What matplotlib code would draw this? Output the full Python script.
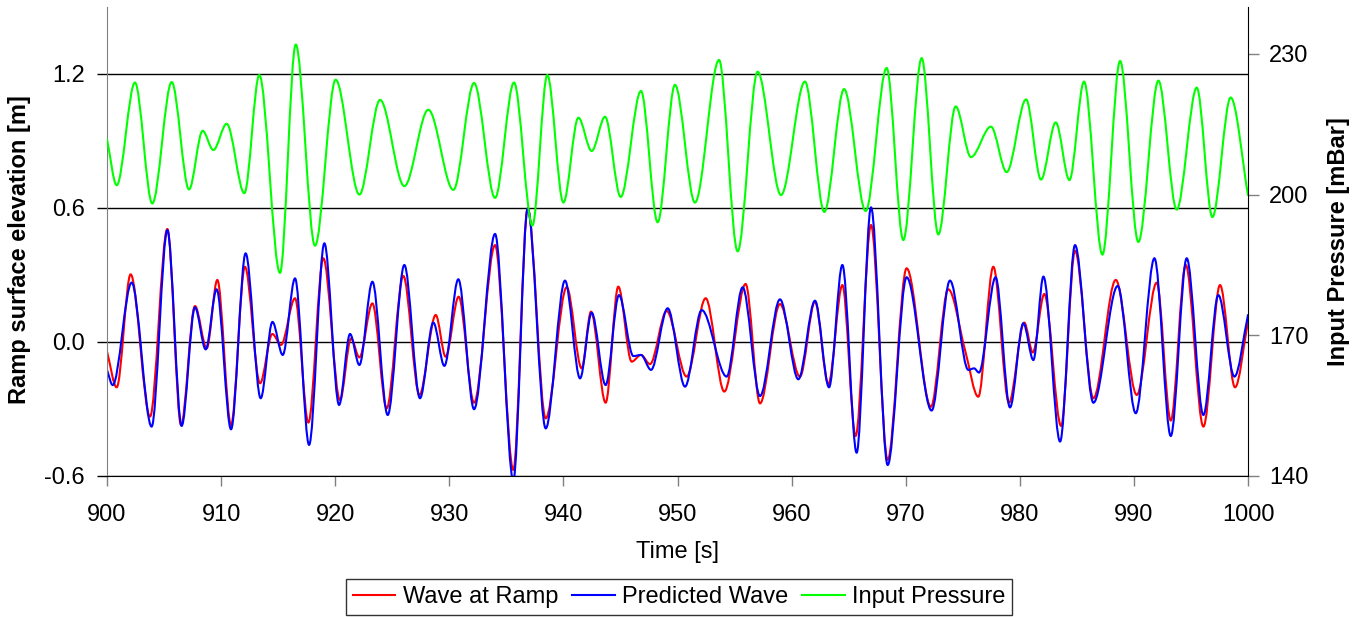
import numpy as np
import matplotlib
matplotlib.use('Agg')
import matplotlib.pyplot as plt
from matplotlib.path import Path
from matplotlib.patches import PathPatch
from matplotlib.lines import Line2D

plt.rcParams['font.family'] = ['Liberation Sans', 'DejaVu Sans']

# Wave at Ramp [m] (turning points)
red_t = [900.0, 900.85, 902.07, 903.77, 905.29, 906.49, 907.71, 908.74, 909.67, 910.87,
         912.09, 913.41, 914.49, 915.25, 916.48, 917.65, 918.96, 920.42, 921.39, 922.12,
         923.26, 924.51, 925.97, 927.38, 928.81, 929.68, 930.82, 932.17, 934.01, 935.61,
         936.87, 938.45, 940.29, 941.6, 942.42, 943.7, 944.81, 945.98, 946.8, 947.59,
         949.05, 950.8, 952.47, 954.1, 955.97, 957.23, 958.98, 960.73, 962.05, 963.22,
         964.45, 965.61, 966.96, 968.42, 970.08, 972.21, 973.73, 975.2, 976.36, 977.68,
         979.05, 980.39, 981.14, 982.15, 983.62, 984.84, 986.45, 988.41, 990.25, 992.0,
         993.23, 994.54, 996.09, 997.55, 998.86, 1000.0]
red_v = [-0.043, -0.203, 0.303, -0.334, 0.506, -0.372, 0.161, -0.028, 0.278, -0.372,
         0.337, -0.185, 0.036, -0.013, 0.196, -0.361, 0.375, -0.26, 0.016, -0.069,
         0.173, -0.297, 0.296, -0.237, 0.121, -0.066, 0.203, -0.272, 0.434, -0.573,
         0.598, -0.342, 0.245, -0.118, 0.136, -0.272, 0.248, -0.088, -0.058, -0.099,
         0.139, -0.155, 0.196, -0.222, 0.26, -0.275, 0.17, -0.155, 0.181, -0.188,
         0.255, -0.421, 0.524, -0.528, 0.33, -0.29, 0.236, -0.036, -0.245, 0.337,
         -0.272, 0.087, -0.047, 0.215, -0.376, 0.409, -0.252, 0.278, -0.237, 0.266,
         -0.352, 0.345, -0.379, 0.255, -0.203, 0.091]

# Predicted Wave [m]
blue_t = [900.0, 900.5, 902.16, 903.91, 905.29, 906.54, 907.71, 908.65, 909.61, 910.87,
          912.15, 913.47, 914.5, 915.4, 916.48, 917.71, 919.05, 920.34, 921.3, 922.12,
          923.26, 924.6, 926.06, 927.43, 928.6, 929.57, 930.79, 932.17, 934.01, 935.61,
          936.87, 938.45, 940.14, 941.46, 942.48, 943.7, 944.87, 946.13, 946.8, 947.68,
          949.14, 950.66, 952.12, 954.31, 955.71, 957.23, 958.98, 960.59, 962.05, 963.28,
          964.45, 965.7, 966.96, 968.42, 970.08, 972.27, 973.88, 975.49, 976.0, 976.42,
          977.88, 979.14, 980.31, 981.19, 982.07, 983.53, 984.84, 986.45, 988.58, 990.16,
          991.8, 993.23, 994.63, 996.09, 997.4, 998.81, 1000.0]
blue_v = [-0.125, -0.193, 0.266, -0.379, 0.501, -0.376, 0.155, -0.033, 0.236, -0.391,
          0.397, -0.252, 0.09, -0.058, 0.285, -0.461, 0.442, -0.282, 0.036, -0.103,
          0.27, -0.327, 0.345, -0.252, 0.087, -0.107, 0.281, -0.301, 0.484, -0.62,
          0.598, -0.387, 0.275, -0.163, 0.131, -0.193, 0.21, -0.063, -0.058, -0.125,
          0.151, -0.2, 0.143, -0.155, 0.245, -0.242, 0.191, -0.167, 0.185, -0.203,
          0.345, -0.496, 0.603, -0.551, 0.29, -0.307, 0.275, -0.125, -0.118, -0.137,
          0.29, -0.293, 0.084, -0.081, 0.293, -0.446, 0.434, -0.272, 0.251, -0.319,
          0.375, -0.421, 0.375, -0.327, 0.21, -0.155, 0.121]

# Input Pressure [mBar]
green_t = [900.0, 900.85, 902.45, 903.97, 905.67, 907.19, 908.38, 909.32, 910.49, 912.04,
           913.35, 915.16, 916.54, 918.23, 920.04, 922.12, 923.93, 926.06, 928.16, 930.36,
           932.17, 934.01, 935.67, 937.28, 938.59, 940.0, 941.31, 942.48, 943.65, 945.02,
           946.8, 948.26, 949.78, 951.53, 953.64, 955.27, 957.02, 959.07, 961.17, 962.87,
           964.6, 966.49, 968.33, 969.79, 971.4, 972.86, 974.38, 975.72, 977.47, 978.85,
           980.55, 981.86, 983.15, 984.35, 985.63, 987.24, 988.79, 990.39, 992.15, 993.75,
           995.51, 996.88, 998.48, 1000.0]
green_v = [211.8, 202.0, 223.9, 198.1, 224.0, 201.1, 213.6, 209.5, 215.1, 200.3,
           225.5, 183.3, 232.0, 189.1, 224.5, 200.0, 220.2, 201.8, 218.1, 201.0,
           223.8, 199.3, 223.9, 193.4, 225.5, 198.3, 216.4, 209.3, 216.6, 199.5,
           222.1, 194.1, 223.4, 198.3, 228.7, 187.9, 226.2, 199.9, 224.1, 196.3,
           222.5, 196.5, 227.0, 190.3, 229.1, 191.5, 218.8, 208.0, 214.5, 204.8,
           220.3, 203.2, 215.4, 203.1, 224.1, 187.2, 228.5, 189.9, 224.3, 196.8,
           222.8, 195.2, 220.7, 199.9]

left_ticks = [-0.6, 0.0, 0.6, 1.2]
right_ticks = [140, 170, 200, 230]
x_ticks = list(range(900, 1001, 10))

FS = 17


def smooth_line(ax, t, v, color, lw=1.5):
    # smoothed line (like a spreadsheet "smoothed line") via cubic bezier segments
    t = np.asarray(t, float)
    v = np.asarray(v, float)
    h = np.diff(t)
    d = np.diff(v) / h
    m = np.zeros_like(v)
    m[0], m[-1] = d[0], d[-1]
    for i in range(1, len(v) - 1):
        if d[i - 1] * d[i] > 0:
            m[i] = 2.0 / (1.0 / d[i - 1] + 1.0 / d[i])
    verts = [(t[0], v[0])]
    codes = [Path.MOVETO]
    for i in range(len(h)):
        verts += [(t[i] + h[i] / 3, v[i] + m[i] * h[i] / 3),
                  (t[i + 1] - h[i] / 3, v[i + 1] - m[i + 1] * h[i] / 3),
                  (t[i + 1], v[i + 1])]
        codes += [Path.CURVE4] * 3
    ax.add_patch(PathPatch(Path(verts, codes), fill=False, edgecolor=color, lw=lw,
                           capstyle='round', joinstyle='round'))


fig = plt.figure(figsize=(13.64, 6.17), dpi=100)
ax = fig.add_axes([107 / 1364, 1 - 476 / 617, (1248 - 107) / 1364, (476 - 7) / 617])
ax2 = ax.twinx()

smooth_line(ax, red_t, red_v, '#ff0000')
smooth_line(ax, blue_t, blue_v, '#0000ff')
smooth_line(ax2, green_t, green_v, '#00ff00')

ax.set_xlim(900, 1000)
ax.set_ylim(-0.6, 1.5)
ax2.set_ylim(140, 240)
ax.set_xticks(x_ticks)
ax.set_yticks(left_ticks)
ax.set_yticklabels([f'{v:.1f}' for v in left_ticks])
ax2.set_yticks(right_ticks)

ax.grid(axis='y', color='black', lw=1.0)
ax.set_axisbelow(True)

for a in (ax, ax2):
    a.spines['top'].set_visible(False)
ax.spines['left'].set_color('#808080')
ax.spines['right'].set_visible(False)
ax.spines['bottom'].set_color('black')
ax2.spines['left'].set_visible(False)
ax2.spines['bottom'].set_visible(False)
ax2.spines['right'].set_color('black')

ax.tick_params(axis='x', direction='out', length=7, width=1, color='#808080',
               labelsize=FS, pad=13)
ax.tick_params(axis='y', direction='out', length=7, width=1, color='black',
               labelsize=FS, pad=9)
ax2.tick_params(axis='y', direction='out', length=8, width=1, color='#808080',
                labelsize=FS, pad=7)

ax.set_xlabel('Time [s]', fontsize=FS, labelpad=11)
fig.text(20 / 1364, 1 - 250 / 617, 'Ramp surface elevation [m]', rotation=90,
         fontsize=FS, fontweight='bold', ha='center', va='center')
fig.text(1339 / 1364, 1 - 242 / 617, 'Input Pressure [mBar]', rotation=90,
         fontsize=FS, fontweight='bold', ha='center', va='center')

handles = [Line2D([], [], color='#ff0000', lw=1.5),
           Line2D([], [], color='#0000ff', lw=1.5),
           Line2D([], [], color='#00ff00', lw=1.5)]
labels = ['Wave at Ramp', 'Predicted Wave', 'Input Pressure']
leg = fig.legend(handles, labels, loc='center', bbox_to_anchor=(679 / 1364, 1 - 597 / 617),
                 ncol=3, fontsize=FS, frameon=True, fancybox=False, shadow=False,
                 handlelength=1.8, handletextpad=0.3, columnspacing=0.6,
                 borderpad=0.3, borderaxespad=0)
leg.get_frame().set_edgecolor('black')
leg.get_frame().set_linewidth(1.0)

fig.savefig('out.png', dpi=100)
